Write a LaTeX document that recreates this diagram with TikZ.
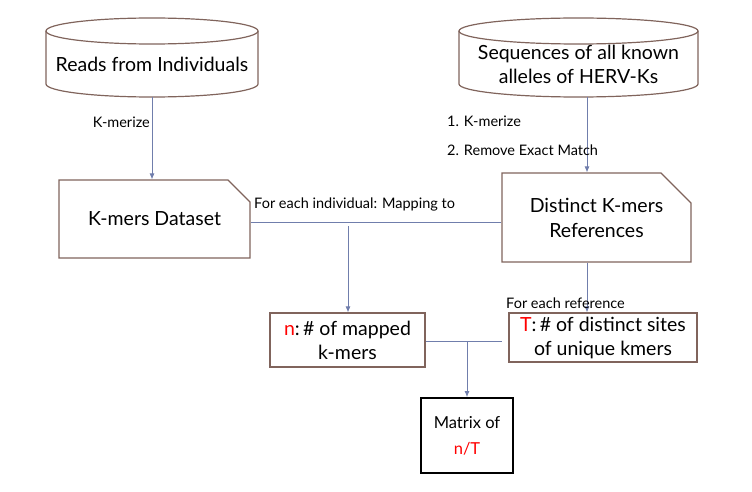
\documentclass[tikz,border=0pt]{standalone}
\usepackage{fontspec}
\setmainfont{Lato}
\usetikzlibrary{shapes.misc,arrows.meta}
\definecolor{boxbrown}{RGB}{128,100,92}
\definecolor{arrowblue}{RGB}{112,126,172}
\definecolor{hlred}{RGB}{255,0,0}
\begin{document}
\begin{tikzpicture}[
  x=1pt, y=-1pt,
  db/.style={draw=boxbrown, line width=1.2pt},
  dbtext/.style={minimum width=212pt, minimum height=66pt, align=center, font=\fontsize{19.5}{24}\selectfont},
  doc/.style={chamfered rectangle, chamfered rectangle corners=north east,
    chamfered rectangle xsep=15pt, chamfered rectangle ysep=15pt,
    draw=boxbrown, line width=1.2pt, align=center, inner sep=0pt,
    font=\fontsize{19.5}{25}\selectfont},
  res/.style={rectangle, draw=boxbrown, line width=1.2pt, align=center, inner sep=0pt,
    font=\fontsize{19.5}{24}\selectfont},
  outbox/.style={rectangle, draw=black, line width=1.8pt, align=center, inner sep=0pt,
    font=\fontsize{16.5}{26}\selectfont},
  lbl/.style={inner sep=1pt, font=\fontsize{14.5}{16}\selectfont},
  e/.style={draw=arrowblue, line width=0.8pt},
  arr/.style={e, -{Latex[length=6pt,width=5pt]}}
]
\useasboundingbox (0,0) rectangle (752,492);

% databases
\draw[db] (152,31) ellipse[x radius=106, y radius=13];
\draw[db] (46,31) -- (46,84) arc[start angle=180, end angle=0, x radius=106, y radius=13] -- (258,31);
\node[dbtext] (reads) at (152,64) {Reads from Individuals};

\draw[db] (578.5,31) ellipse[x radius=119.5, y radius=13];
\draw[db] (459,31) -- (459,84) arc[start angle=180, end angle=0, x radius=119.5, y radius=13] -- (698,31);
\node[dbtext] (seqs) at (578.5,64) {Sequences of all known\\alleles of HERV-Ks};
\coordinate (seqsOut) at (587,97);

% k-mer sets
\node[doc, minimum width=191pt, minimum height=78pt] (kdata) at (154.5,219) {K-mers Dataset};
\node[doc, minimum width=189pt, minimum height=89pt] (kref) at (596.5,217.5) {Distinct K-mers\\References};

% counts
\node[res, minimum width=155pt, minimum height=54pt] (nbox) at (347.5,340)
  {\textcolor{hlred}{n}:\,\# of mapped\\k-mers};
\node[res, minimum width=188pt, minimum height=49pt] (tbox) at (603,337.5)
  {\textcolor{hlred}{T}:\,\# of distinct sites\\of unique kmers};
\node[outbox, minimum width=92pt, minimum height=75pt] (matrix) at (467,435.5)
  {Matrix of\\\textcolor{hlred}{n/T}};

% connectors
\draw[arr] (reads.south) -- (reads.south |- kdata.north);
\node[lbl, anchor=east] (kmerizeA) at (151,122) {K-merize};

\draw[arr] (seqsOut) -- (seqsOut |- kref.north);
\node[lbl, anchor=west] (kmerizeB) at (446,121) {1. K-merize};
\node[lbl, anchor=west] (removeB) at (446,150) {2. Remove Exact Match};

\draw[e] ([yshift=-3pt]kdata.east) -- ([yshift=-3pt]kdata.east -| kref.west);
\node[lbl, anchor=west] (mapLbl) at (253,204) {For each individual: Mapping to};
\coordinate (mapDown) at (348,226);
\draw[arr] (mapDown) -- (mapDown |- nbox.north);

\draw[arr] (seqsOut |- kref.south) -- (seqsOut |- tbox.north);
\node[lbl, anchor=west] (refLbl) at (505,303) {For each reference};

\coordinate (mergeR) at (502,341);
\draw[e] ([yshift=-1pt]nbox.east) -- (mergeR);
\draw[arr] (matrix.north |- mergeR) -- (matrix.north);

\end{tikzpicture}
\end{document}
